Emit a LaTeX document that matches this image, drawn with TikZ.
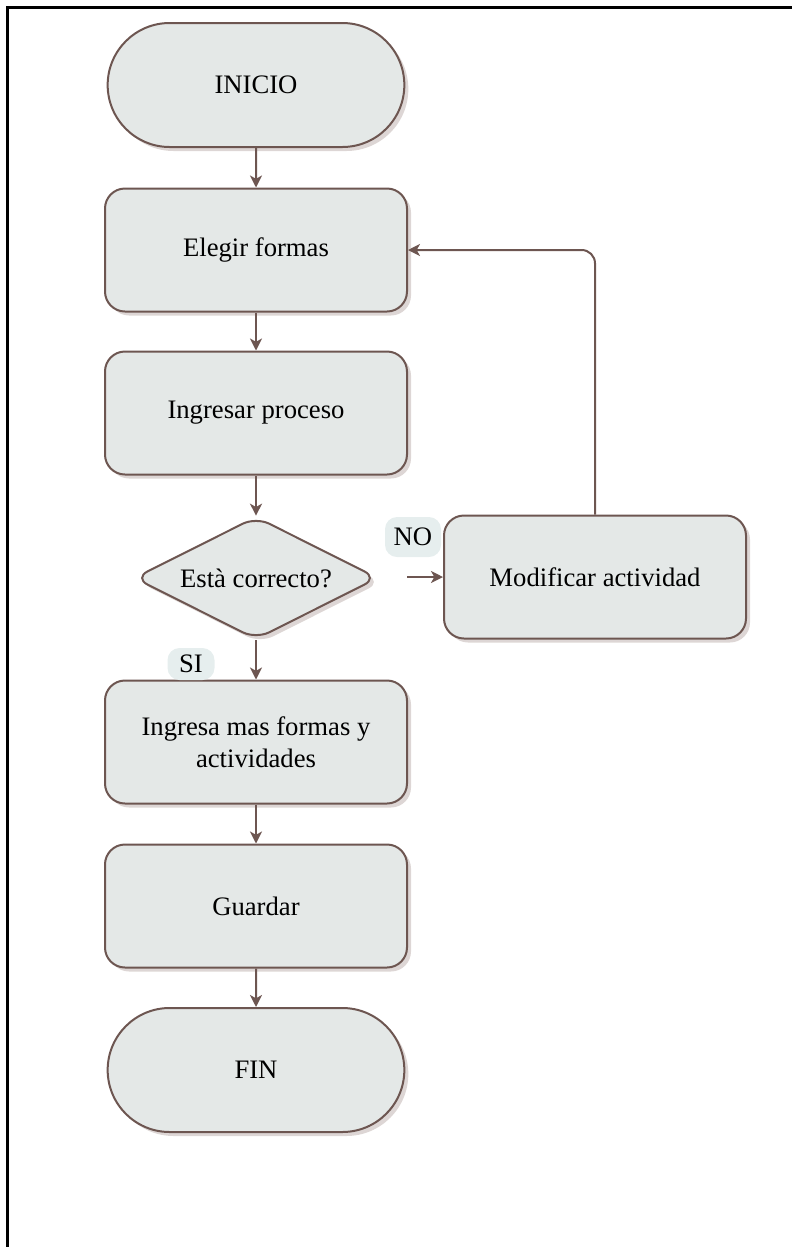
\documentclass[tikz,border=0pt]{standalone}
\usepackage{fontspec}
\setmainfont{Liberation Serif}
\usetikzlibrary{shapes.geometric,shapes.misc,arrows.meta,shadows}
\definecolor{boxfill}{HTML}{E4E8E7}
\definecolor{boxline}{HTML}{6D5651}
\definecolor{shade}{HTML}{D9D2D0}
\definecolor{tagfill}{HTML}{E6EEEE}
\begin{document}
\begin{tikzpicture}[x=0.75pt,y=-0.75pt,
  every node/.style={font=\fontsize{20}{24}\selectfont},
  base/.style={draw=boxline, line width=1.5pt, fill=boxfill,
    drop shadow={shadow xshift=3pt, shadow yshift=-3pt, fill=shade, opacity=0.9}},
  procbox/.style={base, rectangle, rounded corners=15pt,
    minimum width=226.5pt, minimum height=92.25pt, align=center, inner sep=2pt},
  termbox/.style={base, rounded rectangle,
    minimum width=226.5pt, minimum height=93pt, inner sep=2pt},
  decbox/.style={base, diamond, rounded corners=11pt, aspect=1.98,
    minimum width=183pt, minimum height=92pt, inner sep=0pt},
  tag/.style={fill=tagfill, rounded corners=9pt, inner sep=0pt},
  flow/.style={draw=boxline, line width=1.5pt,
    -{Stealth[length=9pt, width=9pt, inset=2.5pt]}}
]
\useasboundingbox (0,0) rectangle (792,1247);
% frame edges
\draw[line width=1.6pt, black] (7.5,1247) -- (7.5,7.5) -- (792,7.5);

% main column
\node[termbox] (inicio) at (256,85) {INICIO};
\node[procbox] (elegir) at (256,250) {Elegir formas};
\node[procbox] (ingresar) at (256,413) {Ingresar proceso};
\node[decbox]  (check) at (256,578) {Està correcto?};
\node[procbox] (modif) at (595,577) {Modificar actividad};
\node[procbox] (mas) at (256,742) {Ingresa mas formas y\\actividades};
\node[procbox] (guardar) at (256,906) {Guardar};
\node[termbox] (fin) at (256,1070) {FIN};

% branch labels
\node[tag, minimum width=35.25pt, minimum height=24pt] (si) at (191,664) {SI};
\node[tag, minimum width=42pt, minimum height=30pt] (no) at (413,537) {NO};

\coordinate (nostart) at (407,577);

% connectors
\draw[flow] (inicio) -- (elegir);
\draw[flow] (elegir) -- (ingresar);
\draw[flow] (ingresar) -- (check);
\draw[flow] (check) -- (mas);
\draw[flow] (mas) -- (guardar);
\draw[flow] (guardar) -- (fin);
\draw[flow] (nostart) -- (modif.west);
\draw[flow, rounded corners=10pt] (modif.north) |- (elegir.east);
\end{tikzpicture}
\end{document}
